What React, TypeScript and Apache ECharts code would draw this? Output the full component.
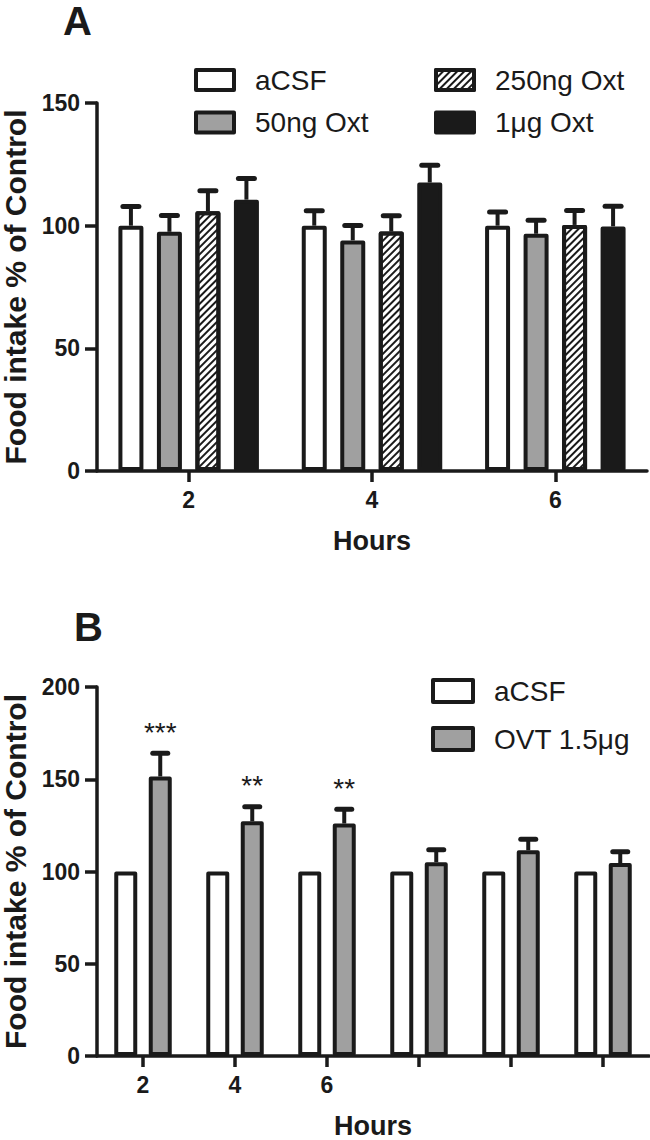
import React, { useEffect, useRef } from 'react';
import * as echarts from 'echarts';

// ---------- Panel A data ----------
const hoursA = ['2', '4', '6'];
const aCSF_A = [100, 100, 100];
const aCSF_A_sem = [7.8, 6.1, 5.6];
const oxt50 = [97.5, 94.0, 96.7];
const oxt50_sem = [6.6, 6.1, 5.5];
const oxt250 = [105.9, 97.6, 100.3];
const oxt250_sem = [8.3, 6.4, 5.9];
const oxt1ug = [110.6, 117.6, 99.7];
const oxt1ug_sem = [8.6, 7.0, 8.2];

// ---------- Panel B data ----------
const hoursB = ['2', '4', '6', '', '', ''];
const aCSF_B = [100, 100, 100, 100, 100, 100];
const ovt = [151.5, 127.2, 126.0, 105.0, 111.5, 104.6];
const ovt_sem = [12.6, 7.9, 7.8, 6.8, 6.0, 6.1];
const ovtSig = ['***', '**', '**', '', '', ''];

const FONT = 'Liberation Sans, Arial, Helvetica, sans-serif';
const INK = '#1a1a1a';
const GRAY = '#a0a0a0';

const BAR_A = 25;
const GAP_A = 0.54;
const BAR_B = 23;
const GAP_B = 0.5;

function errSeries(name: string, xi: number, vals: number[], sems: number[], k: number, n: number, barW: number, gap: number, capHalf: number, sig?: string[]) {
  const stride = barW * (1 + gap);
  const offset = (k - (n - 1) / 2) * stride;
  return {
    type: 'custom',
    name,
    xAxisIndex: xi,
    yAxisIndex: xi,
    z: 1,
    silent: true,
    encode: { x: 0, y: 1 },
    data: vals.map((v, i) => [i, v, sems[i]]),
    renderItem: (params: any, api: any) => {
      const i = api.value(0);
      const v = api.value(1);
      const e = api.value(2);
      const base = api.coord([i, v]);
      const top = api.coord([i, v + e]);
      const x = base[0] + offset;
      const children: any[] = [
        { type: 'line', shape: { x1: x, y1: base[1], x2: x, y2: top[1] }, style: { stroke: INK, lineWidth: 4 } },
        { type: 'line', shape: { x1: x - capHalf, y1: top[1], x2: x + capHalf, y2: top[1] }, style: { stroke: INK, lineWidth: 5, lineCap: 'round' } },
      ];
      if (sig && sig[params.dataIndex]) {
        children.push({
          type: 'text',
          x: x,
          y: top[1] - 21,
          style: {
            text: sig[params.dataIndex],
            fill: INK,
            font: `normal 28px ${FONT}`,
            align: 'center',
            verticalAlign: 'middle',
          },
        });
      }
      return { type: 'group', children };
    },
  };
}

const barStyle = (color: string, extra: any = {}) => ({
  color,
  borderColor: INK,
  borderWidth: 4,
  borderJoin: 'round',
  ...extra,
});

const hatch = {
  symbol: 'rect',
  symbolSize: 1,
  color: INK,
  dashArrayX: [1, 0],
  dashArrayY: [1.6, 2.4],
  rotation: -Math.PI / 4,
};

export default function App() {
  const ref = useRef<HTMLDivElement>(null);
  useEffect(() => {
    if (!ref.current) return;
    const chart = echarts.init(ref.current, null, { renderer: 'svg' });
    const axisLine = { show: true, lineStyle: { color: INK, width: 3.5 } };
    const yLabel = { fontSize: 23, fontWeight: 'bold', color: INK, fontFamily: FONT, margin: 17 };
    const xLabel = { fontSize: 23, fontWeight: 'bold', color: INK, fontFamily: FONT, margin: 17, interval: 0 };
    const nameStyleY = { fontSize: 30, fontWeight: 'bold', color: INK, fontFamily: FONT };
    const nameStyleX = { fontSize: 27, fontWeight: 'bold', color: INK, fontFamily: FONT };
    const legendText = { fontSize: 28, color: INK, fontFamily: FONT, padding: [0, 0, 0, 16] };
    const legendItem = { borderWidth: 4, borderColor: INK };
    const yTick = { show: true, length: 12, lineStyle: { color: INK, width: 3.5 } };
    const xTick = { show: true, alignWithLabel: true, length: 11, interval: 0, lineStyle: { color: INK, width: 3.5 } };

    const option: any = {
      animation: false,
      backgroundColor: '#ffffff',
      textStyle: { fontFamily: FONT },
      graphic: [
        { type: 'text', x: 63, y: 21, style: { text: 'A', fill: INK, font: `bold 40px ${FONT}`, align: 'left', verticalAlign: 'middle' } },
        { type: 'text', x: 74, y: 627, style: { text: 'B', fill: INK, font: `bold 40px ${FONT}`, align: 'left', verticalAlign: 'middle' } },
      ],
      legend: [
        {
          data: ['aCSF', '50ng Oxt'],
          orient: 'vertical', left: 194, top: 66, padding: 0,
          itemWidth: 38, itemHeight: 20, itemGap: 14.5, icon: 'rect',
          textStyle: legendText, itemStyle: legendItem, selectedMode: false,
        },
        {
          data: ['250ng Oxt', '1μg Oxt'],
          orient: 'vertical', left: 434, top: 66, padding: 0,
          itemWidth: 38, itemHeight: 20, itemGap: 14.5, icon: 'rect',
          textStyle: legendText, itemStyle: legendItem, selectedMode: false,
        },
        {
          data: ['aCSF', 'OVT 1.5μg'],
          orient: 'vertical', left: 431, top: 677, padding: 0,
          itemWidth: 40, itemHeight: 22, itemGap: 20, icon: 'rect',
          textStyle: legendText, itemStyle: legendItem, selectedMode: false,
        },
      ],
      grid: [
        { left: 97, top: 103, width: 550, height: 368, containLabel: false, outerBoundsMode: 'none' },
        { left: 97, top: 687, width: 552, height: 369, containLabel: false, outerBoundsMode: 'none' },
      ],
      xAxis: [
        {
          type: 'category', gridIndex: 0, data: hoursA,
          name: 'Hours', nameLocation: 'middle', nameGap: 56, nameTextStyle: nameStyleX,
          axisLine, axisTick: xTick, axisLabel: xLabel, splitLine: { show: false },
        },
        {
          type: 'category', gridIndex: 1, data: hoursB,
          name: 'Hours', nameLocation: 'middle', nameGap: 56, nameTextStyle: nameStyleX,
          axisLine, axisTick: xTick, axisLabel: xLabel, splitLine: { show: false },
        },
      ],
      yAxis: [
        {
          type: 'value', gridIndex: 0, min: 0, max: 150, interval: 50,
          name: 'Food intake % of Control', nameLocation: 'middle', nameGap: 62, nameTextStyle: nameStyleY,
          axisLine, axisTick: yTick, axisLabel: yLabel, splitLine: { show: false },
        },
        {
          type: 'value', gridIndex: 1, min: 0, max: 200, interval: 50,
          name: 'Food intake % of Control', nameLocation: 'middle', nameGap: 62, nameTextStyle: nameStyleY,
          axisLine, axisTick: yTick, axisLabel: yLabel, splitLine: { show: false },
        },
      ],
      series: [
        { type: 'bar', name: 'aCSF', xAxisIndex: 0, yAxisIndex: 0, data: aCSF_A, barWidth: BAR_A, barGap: `${GAP_A * 100}%`, itemStyle: barStyle('#ffffff'), z: 2 },
        { type: 'bar', name: '50ng Oxt', xAxisIndex: 0, yAxisIndex: 0, data: oxt50, barWidth: BAR_A, barGap: `${GAP_A * 100}%`, itemStyle: barStyle(GRAY), z: 2 },
        { type: 'bar', name: '250ng Oxt', xAxisIndex: 0, yAxisIndex: 0, data: oxt250, barWidth: BAR_A, barGap: `${GAP_A * 100}%`, itemStyle: barStyle('#ffffff', { decal: hatch }), z: 2 },
        { type: 'bar', name: '1μg Oxt', xAxisIndex: 0, yAxisIndex: 0, data: oxt1ug, barWidth: BAR_A, barGap: `${GAP_A * 100}%`, itemStyle: barStyle(INK), z: 2 },
        errSeries('e1', 0, aCSF_A, aCSF_A_sem, 0, 4, BAR_A, GAP_A, 8),
        errSeries('e2', 0, oxt50, oxt50_sem, 1, 4, BAR_A, GAP_A, 8),
        errSeries('e3', 0, oxt250, oxt250_sem, 2, 4, BAR_A, GAP_A, 8),
        errSeries('e4', 0, oxt1ug, oxt1ug_sem, 3, 4, BAR_A, GAP_A, 8),
        { type: 'bar', name: 'aCSF', xAxisIndex: 1, yAxisIndex: 1, data: aCSF_B, barWidth: BAR_B, barGap: `${GAP_B * 100}%`, itemStyle: barStyle('#ffffff'), z: 2 },
        { type: 'bar', name: 'OVT 1.5μg', xAxisIndex: 1, yAxisIndex: 1, data: ovt, barWidth: BAR_B, barGap: `${GAP_B * 100}%`, itemStyle: barStyle(GRAY), z: 2 },
        errSeries('e5', 1, ovt, ovt_sem, 1, 2, BAR_B, GAP_B, 7.5, ovtSig),
      ],
    };
    chart.setOption(option);
    return () => chart.dispose();
  }, []);
  return <div ref={ref} style={{ position: 'absolute', left: 0, top: 0, width: 650, height: 1140, background: '#fff' }} />;
}
